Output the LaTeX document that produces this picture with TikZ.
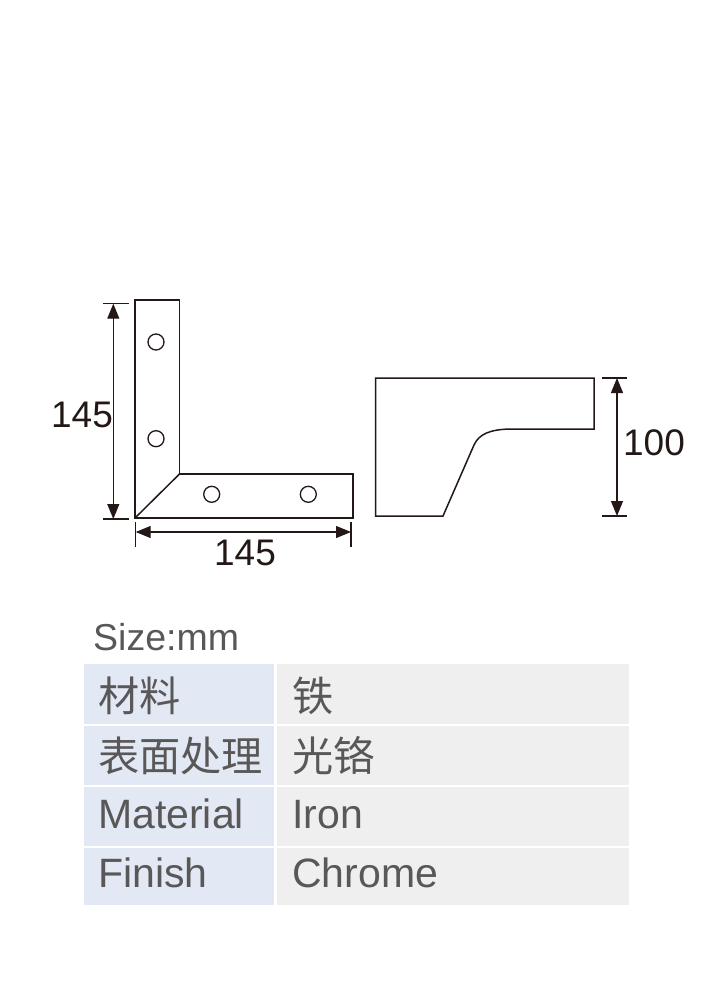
\documentclass[tikz,border=0pt]{standalone}
\usepackage{fontspec}
\setmainfont{Liberation Sans}
\newfontfamily\cjk{Noto Sans CJK SC}[Scale=1.03]
\usetikzlibrary{arrows.meta}
\definecolor{ink}{HTML}{231815}
\definecolor{tabletext}{HTML}{595757}
\definecolor{bluecell}{HTML}{E2E9F4}
\definecolor{greycell}{HTML}{EFEFEF}
\tikzset{
  part/.style={draw=ink,line width=1.5pt,line join=miter},
  hole/.style={draw=ink,line width=1.3pt,fill=white},
  tick/.style={draw=ink,line width=1.1pt},
  dimline/.style={draw=ink,line width=1.2pt,{Triangle[length=15pt,width=12pt]}-{Triangle[length=15pt,width=12pt]}},
  dimtext/.style={text=ink,font=\fontsize{37}{37}\selectfont,inner sep=0pt,anchor=base},
  celltext/.style={text=tabletext,font=\fontsize{41}{41}\selectfont,inner sep=0pt,anchor=base west},
  cjktext/.style={text=tabletext,font=\cjk\fontsize{40}{40}\selectfont,inner sep=0pt,anchor=base west},
  blue cell/.style={fill=bluecell,draw=none},
  grey cell/.style={fill=greycell,draw=none}
}
\begin{document}
\begin{tikzpicture}[x=1pt,y=-1pt]
\useasboundingbox (0,0) rectangle (726,990);
% bracket plan
\draw[part] (135,300) -- (179.5,300) -- (179.5,474) -- (353,474) -- (353,518) -- (135,518) -- cycle;
\draw[part] (179.5,474) -- (135,518);
\draw[hole] (156,342) circle (8pt);
\draw[hole] (156,438.7) circle (8pt);
\draw[hole] (211.7,494.3) circle (8pt);
\draw[hole] (308.3,494.3) circle (8pt);
% side view
\draw[part] (375.5,378) -- (594,378) -- (594,429) -- (510,429)
  .. controls (490,429.5) and (479,434) .. (474,445) -- (443,516) -- (375.5,516) -- cycle;
% dimensions
\coordinate (vt) at (113.3,303.7); \coordinate (vb) at (113.3,519);
\draw[tick] (103,303.7) -- (128.5,303.7);
\draw[tick] (103,519) -- (128.5,519);
\draw[dimline] (vt) -- (vb);
\coordinate (hl) at (135.7,532); \coordinate (hr) at (351,532);
\draw[tick] (135.7,522) -- (135.7,547);
\draw[tick] (351,522) -- (351,547);
\draw[dimline] (hl) -- (hr);
\coordinate (st) at (617,378); \coordinate (sb) at (617,516);
\draw[tick] (602,378) -- (627,378);
\draw[tick] (602,516) -- (627,516);
\draw[dimline] (st) -- (sb);
\node[dimtext] (d1) at (82,427) {145};
\node[dimtext] (d2) at (245,565) {145};
\node[dimtext] (d3) at (654,455) {100};
% table
\node[celltext,font=\fontsize{37.5}{37.5}\selectfont] (size) at (93,650) {Size:mm};
\fill[blue cell] (83.5,664) rectangle (274,724);
\fill[blue cell] (83.5,726) rectangle (274,785);
\fill[blue cell] (83.5,787) rectangle (274,846);
\fill[blue cell] (83.5,848) rectangle (274,905);
\fill[grey cell] (277,664) rectangle (628.5,724);
\fill[grey cell] (277,726) rectangle (628.5,785);
\fill[grey cell] (277,787) rectangle (628.5,846);
\fill[grey cell] (277,848) rectangle (628.5,905);
\node[cjktext] (c1) at (98,711) {材料};
\node[cjktext] (c2) at (292,711) {铁};
\node[cjktext] (c3) at (98,771) {表面处理};
\node[cjktext] (c4) at (292,771) {光铬};
\node[celltext] (c5) at (98,828) {Material};
\node[celltext] (c6) at (292,828) {Iron};
\node[celltext] (c7) at (98,887) {Finish};
\node[celltext] (c8) at (292,887) {Chrome};
\end{tikzpicture}
\end{document}
